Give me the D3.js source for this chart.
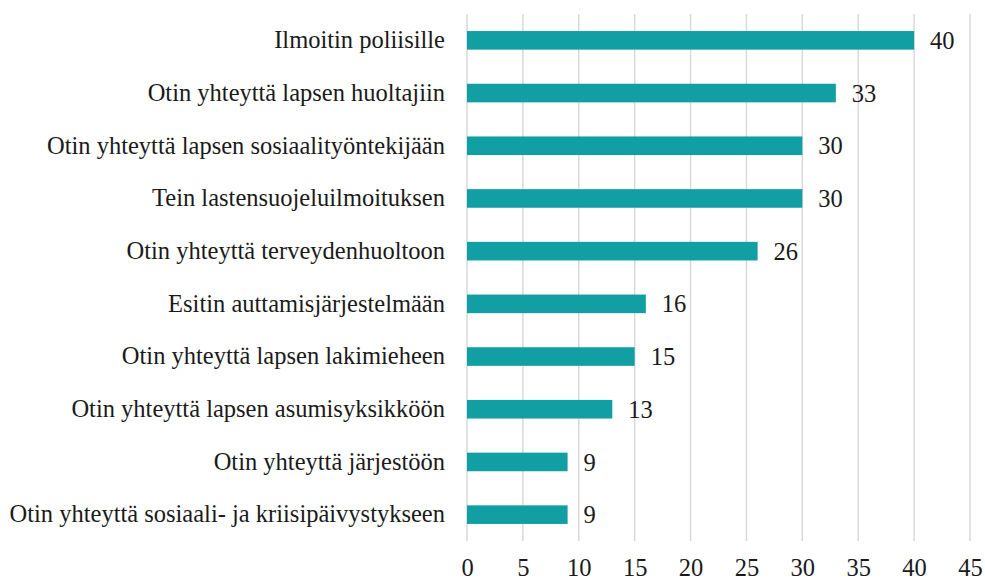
<!DOCTYPE html>
<html>
<head>
<meta charset="utf-8">
<script src="https://cdn.jsdelivr.net/npm/d3@7"></script>
<style>
  body { margin: 0; background: #fff; }
  text { font-family: "Liberation Serif", "DejaVu Serif", serif; fill: #1a1a1a; }
</style>
</head>
<body>
<div id="chart"></div>
<script>
const categories = [
  "Ilmoitin poliisille",
  "Otin yhteyttä lapsen huoltajiin",
  "Otin yhteyttä lapsen sosiaalityöntekijään",
  "Tein lastensuojeluilmoituksen",
  "Otin yhteyttä terveydenhuoltoon",
  "Esitin auttamisjärjestelmään",
  "Otin yhteyttä lapsen lakimieheen",
  "Otin yhteyttä lapsen asumisyksikköön",
  "Otin yhteyttä järjestöön",
  "Otin yhteyttä sosiaali- ja kriisipäivystykseen"
];
const values = [40, 33, 30, 30, 26, 16, 15, 13, 9, 9];
const x_ticks = [0, 5, 10, 15, 20, 25, 30, 35, 40, 45];

const W = 985, H = 582;
const margins = { top: 14, right: 15, bottom: 41, left: 467 };
const font_size = "24.5px";

const svg = d3.select("#chart").append("svg")
  .attr("width", W).attr("height", H);

const x_scale = d3.scaleLinear().domain([0, 45]).range([margins.left, W - margins.right]);
const y_scale = d3.scaleBand().domain(categories)
  .range([margins.top, H - margins.bottom]).paddingInner(0.647).paddingOuter(0.3235);

// gridlines
svg.append("g").attr("class", "grid")
  .selectAll("line").data(x_ticks).enter().append("line")
  .attr("x1", d => x_scale(d)).attr("x2", d => x_scale(d))
  .attr("y1", margins.top).attr("y2", H - margins.bottom)
  .attr("stroke", "#d9d9d9").attr("stroke-width", 1.5);

// x axis labels
const x_axis = d3.axisBottom(x_scale).tickValues(x_ticks).tickSize(0).tickPadding(0);
svg.append("g").attr("class", "x axis")
  .attr("transform", `translate(0, ${H - 6})`)
  .call(x_axis)
  .call(g => g.select(".domain").remove())
  .selectAll("text")
  .attr("dy", 0)
  .style("font-size", font_size)
  .style("font-family", "'Liberation Serif', 'DejaVu Serif', serif")
  .attr("fill", "#1a1a1a");

// y axis labels
const y_axis = d3.axisLeft(y_scale).tickSize(0).tickPadding(22);
svg.append("g").attr("class", "y axis")
  .attr("transform", `translate(${margins.left}, 0)`)
  .call(y_axis)
  .call(g => g.select(".domain").remove())
  .selectAll("text")
  .style("font-size", font_size)
  .style("font-family", "'Liberation Serif', 'DejaVu Serif', serif")
  .attr("fill", "#1a1a1a");

// bars
svg.append("g").attr("class", "bars")
  .selectAll("rect").data(values).enter().append("rect")
  .attr("x", x_scale(0))
  .attr("y", (d, i) => y_scale(categories[i]))
  .attr("width", d => x_scale(d) - x_scale(0))
  .attr("height", y_scale.bandwidth())
  .attr("fill", "#129fa4");

// value labels
svg.append("g").attr("class", "labels")
  .selectAll("text").data(values).enter().append("text")
  .attr("x", d => x_scale(d) + 16)
  .attr("y", (d, i) => y_scale(categories[i]) + y_scale.bandwidth() / 2)
  .attr("dy", "0.35em")
  .style("font-size", font_size)
  .text(d => d);
</script>
</body>
</html>
